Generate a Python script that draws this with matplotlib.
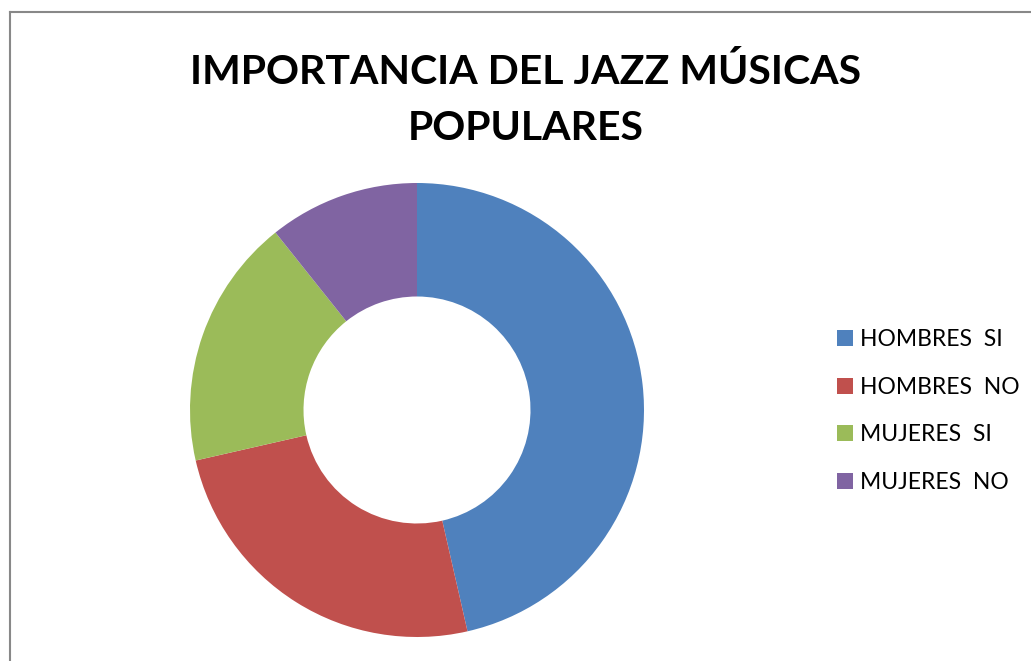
import matplotlib
matplotlib.use("Agg")
import matplotlib.pyplot as plt
from matplotlib.lines import Line2D

labels = ["HOMBRES  SI", "HOMBRES  NO", "MUJERES  SI", "MUJERES  NO"]
values = [13, 7, 5, 3]
colors = ["#4F81BD", "#C0504D", "#9BBB59", "#8064A2"]
title_lines = ["IMPORTANCIA DEL JAZZ MÚSICAS", "POPULARES"]

plt.rcParams["font.family"] = ["Lato", "DejaVu Sans"]

W, H = 1031, 661
fig = plt.figure(figsize=(W / 100, H / 100), dpi=100)

# pie centre ~ (417, 410) px, outer radius ~227 px
cx, cy, r = 417, 410, 227
ax = fig.add_axes([(cx - r) / W, (H - cy - r) / H, 2 * r / W, 2 * r / H])
wedges, _ = ax.pie(values, colors=colors, startangle=90, counterclock=False,
                   radius=1.0, wedgeprops=dict(width=0.5, linewidth=0))
ax.set_xlim(-1, 1)
ax.set_ylim(-1, 1)
ax.set_aspect("equal")
ax.axis("off")

# title, two lines
fig.text(526 / W, 1 - 84 / H, title_lines[0], ha="center", va="baseline",
         fontsize=29.5, fontweight="bold")
fig.text(526 / W, 1 - 140 / H, title_lines[1], ha="center", va="baseline",
         fontsize=29.5, fontweight="bold")

fig.legend(wedges, labels, loc="center left",
           bbox_to_anchor=(816 / W, 1 - 411 / H), frameon=False,
           fontsize=16.5, handlelength=0.7, handleheight=0.7,
           handletextpad=0.3, labelspacing=1.17)

# chart border (only left and top visible)
fig.add_artist(Line2D([10 / W, 10 / W], [0, 1 - 12 / H], color="#888888", lw=1.5))
fig.add_artist(Line2D([10 / W, 1], [1 - 12 / H, 1 - 12 / H], color="#888888", lw=1.5))

fig.savefig("out.png", dpi=100)
